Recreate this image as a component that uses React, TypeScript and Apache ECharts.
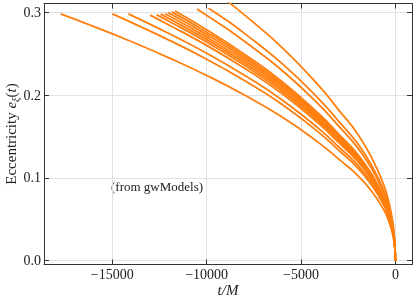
import React, { useEffect, useRef } from 'react';
import * as echarts from 'echarts';

// Tick values
const xTicks = [-15000, -10000, -5000, 0];
const yTicks = [0, 0.1, 0.2, 0.3];

// Eccentricity curves [t/M, e]
const curve01 = [[-17740, 0.298], [-16000, 0.283], [-14000, 0.2647], [-12000, 0.245], [-10000, 0.2237], [-8000, 0.2], [-6000, 0.1734], [-4000, 0.1414], [-3000, 0.1226], [-2000, 0.1031], [-1200, 0.0821], [-600, 0.0608], [-400, 0.0508], [-250, 0.0409], [-150, 0.0323], [-80, 0.0239], [-30, 0.0147], [0, 0]];
const curve02 = [[-15000, 0.298], [-14000, 0.2878], [-12000, 0.2664], [-10000, 0.2433], [-8000, 0.2175], [-6000, 0.1886], [-4000, 0.1538], [-3000, 0.1333], [-2000, 0.1122], [-1200, 0.0893], [-600, 0.0662], [-400, 0.0552], [-250, 0.0445], [-150, 0.0352], [-80, 0.026], [-30, 0.016], [0, 0]];
const curve03 = [[-14150, 0.298], [-12000, 0.2743], [-10000, 0.2505], [-8000, 0.2239], [-6000, 0.1941], [-4000, 0.1583], [-3000, 0.1373], [-2000, 0.1155], [-1200, 0.0919], [-600, 0.0681], [-400, 0.0569], [-250, 0.0458], [-150, 0.0362], [-80, 0.0268], [-30, 0.0165], [0, 0]];
const curve04 = [[-13000, 0.2965], [-12000, 0.2847], [-10000, 0.26], [-8000, 0.2324], [-6000, 0.2015], [-4000, 0.1643], [-3000, 0.1425], [-2000, 0.1199], [-1200, 0.0954], [-600, 0.0707], [-400, 0.059], [-250, 0.0476], [-150, 0.0376], [-80, 0.0278], [-30, 0.0171], [0, 0]];
const curve05 = [[-12650, 0.2969], [-12000, 0.2891], [-10000, 0.264], [-8000, 0.236], [-6000, 0.2046], [-4000, 0.1668], [-3000, 0.1447], [-2000, 0.1217], [-1200, 0.0969], [-600, 0.0718], [-400, 0.0599], [-250, 0.0483], [-150, 0.0381], [-80, 0.0282], [-30, 0.0173], [0, 0]];
const curve06 = [[-12440, 0.2978], [-12000, 0.2924], [-10000, 0.267], [-8000, 0.2387], [-6000, 0.2069], [-4000, 0.1687], [-3000, 0.1463], [-2000, 0.1231], [-1200, 0.098], [-600, 0.0726], [-400, 0.0606], [-250, 0.0489], [-150, 0.0386], [-80, 0.0286], [-30, 0.0175], [0, 0]];
const curve07 = [[-12200, 0.2982], [-10000, 0.27], [-8000, 0.2414], [-6000, 0.2093], [-4000, 0.1706], [-3000, 0.148], [-2000, 0.1245], [-1200, 0.0991], [-600, 0.0734], [-400, 0.0613], [-250, 0.0494], [-150, 0.039], [-80, 0.0289], [-30, 0.0177], [0, 0]];
const curve08 = [[-12050, 0.2997], [-10000, 0.273], [-8000, 0.2441], [-6000, 0.2116], [-4000, 0.1725], [-3000, 0.1496], [-2000, 0.1259], [-1200, 0.1002], [-600, 0.0743], [-400, 0.062], [-250, 0.05], [-150, 0.0394], [-80, 0.0292], [-30, 0.0179], [0, 0]];
const curve09 = [[-11850, 0.3005], [-10000, 0.276], [-8000, 0.2467], [-6000, 0.2139], [-4000, 0.1744], [-3000, 0.1512], [-2000, 0.1272], [-1200, 0.1013], [-600, 0.0751], [-400, 0.0627], [-250, 0.0505], [-150, 0.0399], [-80, 0.0295], [-30, 0.0181], [0, 0]];
const curve10 = [[-11680, 0.3015], [-10000, 0.279], [-8000, 0.2494], [-6000, 0.2162], [-4000, 0.1763], [-3000, 0.1529], [-2000, 0.1286], [-1200, 0.1024], [-600, 0.0759], [-400, 0.0633], [-250, 0.0511], [-150, 0.0403], [-80, 0.0299], [-30, 0.0183], [0, 0]];
const curve11 = [[-10520, 0.304], [-9000, 0.2812], [-8000, 0.265], [-6000, 0.2297], [-4000, 0.1873], [-3000, 0.1624], [-2000, 0.1366], [-1200, 0.1088], [-600, 0.0806], [-400, 0.0673], [-250, 0.0542], [-150, 0.0428], [-80, 0.0317], [-30, 0.0195], [0, 0]];
const curve12 = [[-9900, 0.305], [-9000, 0.2912], [-8000, 0.2745], [-6000, 0.2379], [-4000, 0.194], [-3000, 0.1682], [-2000, 0.1415], [-1200, 0.1127], [-600, 0.0835], [-400, 0.0697], [-250, 0.0562], [-150, 0.0444], [-80, 0.0328], [-30, 0.0202], [0, 0]];
const curve13 = [[-9600, 0.3255], [-9000, 0.315], [-8000, 0.2968], [-6000, 0.2573], [-4000, 0.2098], [-3000, 0.1819], [-2000, 0.1531], [-1200, 0.1218], [-600, 0.0903], [-400, 0.0754], [-250, 0.0608], [-150, 0.048], [-80, 0.0355], [-30, 0.0218], [0, 0]];

const curves = [curve01, curve02, curve03, curve04, curve05, curve06, curve07, curve08, curve09, curve10, curve11, curve12, curve13];

const X_MIN = -18620;
const X_MAX = 880;
const Y_MIN = -0.0046;
const Y_MAX = 0.3106;

export default function App() {
  const ref = useRef<HTMLDivElement>(null);
  useEffect(() => {
    const chart = echarts.init(ref.current!, null, { renderer: 'svg' });
    const font = '"Liberation Serif", "Times New Roman", serif';
    const frame = '#333333';
    const fmtX = (v: number) => (v < 0 ? '\u2212' + Math.abs(v) : String(v));
    const series = curves.map((c) => ({
      type: 'line',
      data: c,
      symbol: 'none',
      showSymbol: false,
      smooth: 0.5,
      clip: true,
      silent: true,
      lineStyle: { color: '#ff7f0e', width: 1.8 },
      itemStyle: { color: '#ff7f0e' },
    }));
    chart.setOption({
      animation: false,
      grid: { left: 44, right: 4, top: 3.5, bottom: 39.5, containLabel: false, outerBoundsMode: 'none' },
      xAxis: [
        {
          type: 'value', min: X_MIN, max: X_MAX, position: 'bottom',
          axisLine: { show: true, onZero: false, lineStyle: { color: frame, width: 1 } },
          axisTick: { show: true, inside: true, length: 5, customValues: xTicks, lineStyle: { color: frame, width: 1 } },
          axisLabel: { customValues: xTicks, formatter: fmtX, margin: 3, fontFamily: font, fontSize: 14, color: '#222' },
          splitLine: { show: true, lineStyle: { color: '#e2e2e2', width: 1 } },
          name: 't/M', nameLocation: 'middle', nameGap: 18, nameMoveOverlap: false,
          nameTextStyle: { fontFamily: font, fontStyle: 'italic', fontSize: 15, color: '#222' },
        },
        {
          type: 'value', min: X_MIN, max: X_MAX, position: 'top',
          axisLine: { show: true, onZero: false, lineStyle: { color: frame, width: 1 } },
          axisTick: { show: true, inside: true, length: 5, customValues: xTicks, lineStyle: { color: frame, width: 1 } },
          axisLabel: { show: false },
          splitLine: { show: false },
        },
      ],
      yAxis: [
        {
          type: 'value', min: Y_MIN, max: Y_MAX, position: 'left',
          axisLine: { show: true, onZero: false, lineStyle: { color: frame, width: 1 } },
          axisTick: { show: true, inside: true, length: 5, customValues: yTicks, lineStyle: { color: frame, width: 1 } },
          axisLabel: { customValues: yTicks, formatter: (v: number) => v.toFixed(1), margin: 3, fontFamily: font, fontSize: 14, color: '#222' },
          splitLine: { show: true, lineStyle: { color: '#e2e2e2', width: 1 } },
          name: 'Eccentricity {i|e}{sub|\u03be}{n|(}{i|t}{n|)}',
          nameLocation: 'middle', nameGap: 23, nameRotate: 90, nameMoveOverlap: false,
          nameTextStyle: {
            fontFamily: font, fontSize: 15, color: '#222', lineHeight: 20,
            rich: {
              i: { fontFamily: font, fontStyle: 'italic', fontSize: 15, color: '#222', lineHeight: 20 },
              n: { fontFamily: font, fontSize: 15, color: '#222', lineHeight: 20 },
              sub: { fontFamily: font, fontStyle: 'italic', fontSize: 10.5, color: '#222', lineHeight: 11, verticalAlign: 'bottom' },
            },
          },
        },
        {
          type: 'value', min: Y_MIN, max: Y_MAX, position: 'right',
          axisLine: { show: true, onZero: false, lineStyle: { color: frame, width: 1 } },
          axisTick: { show: true, inside: true, length: 5, customValues: yTicks, lineStyle: { color: frame, width: 1 } },
          axisLabel: { show: false },
          splitLine: { show: false },
        },
      ],
      graphic: [
        {
          type: 'text', left: 111, top: 180, silent: true,
          style: { text: '(from gwModels)', fontFamily: font, fontSize: 13, fill: '#222' },
        },
      ],
      series,
    });
    return () => chart.dispose();
  }, []);
  return <div ref={ref} style={{ position: 'fixed', left: 0, top: 0, width: 416, height: 304 }} />;
}
